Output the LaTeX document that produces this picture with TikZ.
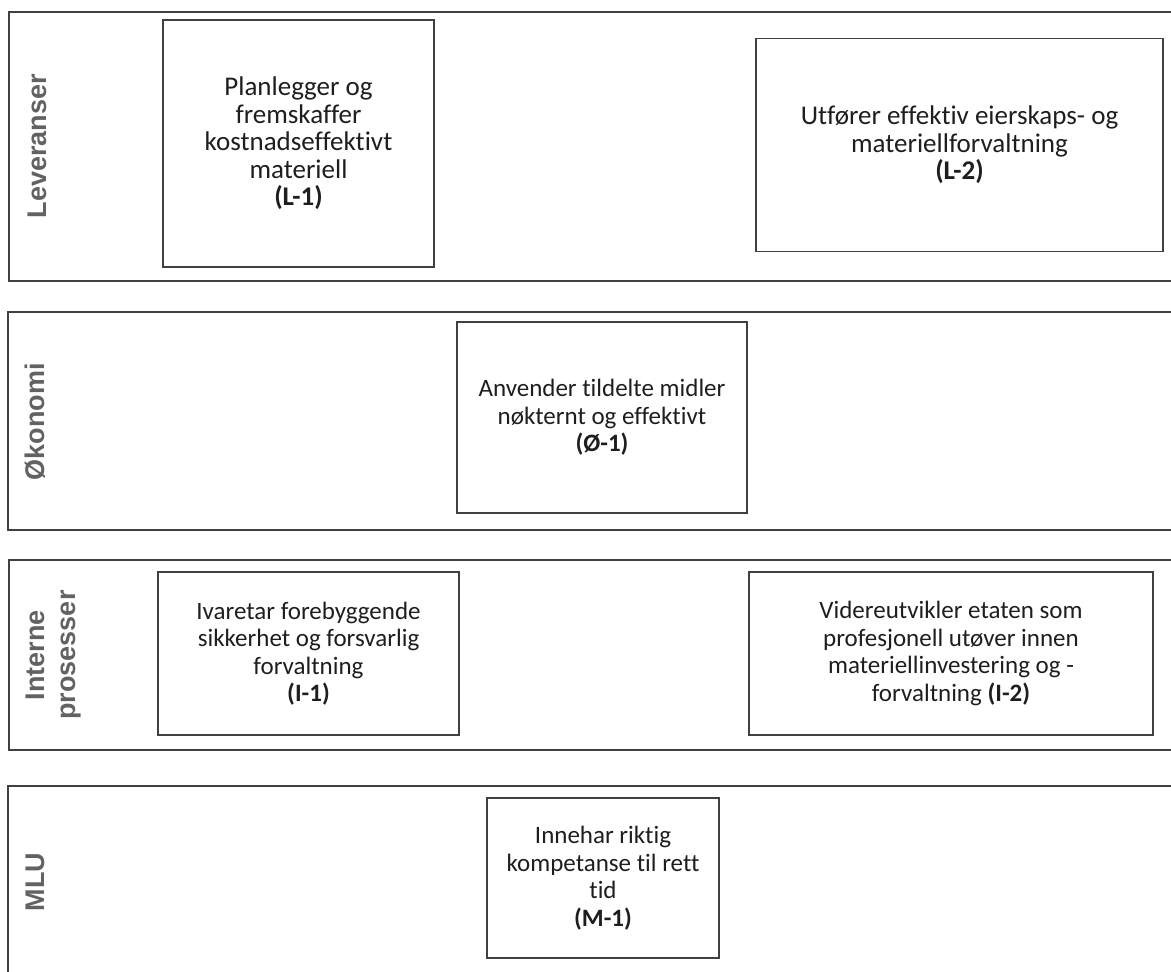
\documentclass[tikz,border=0pt]{standalone}
\usepackage{fontspec}
\setmainfont{Carlito}[Ligatures=NoCommon]
\newfontfamily\labelfont{Liberation Sans}
\usetikzlibrary{positioning}
\definecolor{linegray}{HTML}{404040}
\definecolor{labelgray}{HTML}{626262}
\definecolor{textgray}{HTML}{1E1E1E}

\begin{document}
\begin{tikzpicture}[x=1pt,y=-1pt,
        band/.style={draw=linegray, line width=1.6pt},
        goal/.style={draw=linegray, line width=1.4pt, align=center, inner sep=0pt,
            text=textgray, font=\fontsize{25}{27.5}\selectfont},
        bigger/.style={font=\fontsize{27}{27.5}\selectfont},
        perspective/.style={rotate=90, text=labelgray, align=center,
            font=\labelfont\bfseries\fontsize{27}{31}\selectfont}]
        \useasboundingbox (0,0) rectangle (1171,972);
        \clip (0,0) rectangle (1171,972);
        \pgfmathsetmacro{\bandend}{1190}

        % Leveranser
        \draw[band] (9,12) rectangle (\bandend,281);
        \node[perspective] (lev) at (37,146) {Leveranser};
        \node[goal, bigger, minimum width=271, minimum height=247] (l1) at (298.5,143.5)
            {Planlegger og\\ fremskaffer\\ kostnadseffektivt\\ materiell\\ \textbf{(L-1)}};
        \node[goal, bigger, minimum width=407, minimum height=213] (l2) at (959.5,145)
            {Utfører effektiv eierskaps- og\\ materiellforvaltning\\ \textbf{(L-2)}};

        % Økonomi
        \draw[band] (8,312) rectangle (\bandend,530);
        \node[perspective] (oko) at (35,422) {Økonomi};
        \node[goal, minimum width=290, minimum height=191] (o1) at (602,417.5)
            {Anvender tildelte midler\\ nøkternt og effektivt\\ \textbf{(Ø-1)}};

        % Interne prosesser
        \draw[band] (9,560) rectangle (\bandend,750);
        \node[perspective] (int) at (54,655) {Interne\\ prosesser};
        \node[goal, minimum width=301, minimum height=163] (i1) at (308.5,653.5)
            {Ivaretar forebyggende\\ sikkerhet og forsvarlig\\ forvaltning\\ \textbf{(I-1)}};
        \node[goal, minimum width=404, minimum height=163] (i2) at (951,653.5)
            {Videreutvikler etaten som\\ profesjonell utøver innen\\ materiellinvestering og -\\ forvaltning \textbf{(I-2)}};

        % MLU
        \draw[band] (8,786) rectangle (\bandend,990);
        \node[perspective] (mlu) at (35,882) {MLU};
        \node[goal, minimum width=232, minimum height=160] (m1) at (603,878)
            {Innehar riktig\\ kompetanse til rett\\ tid\\ \textbf{(M-1)}};
\end{tikzpicture}
\end{document}
